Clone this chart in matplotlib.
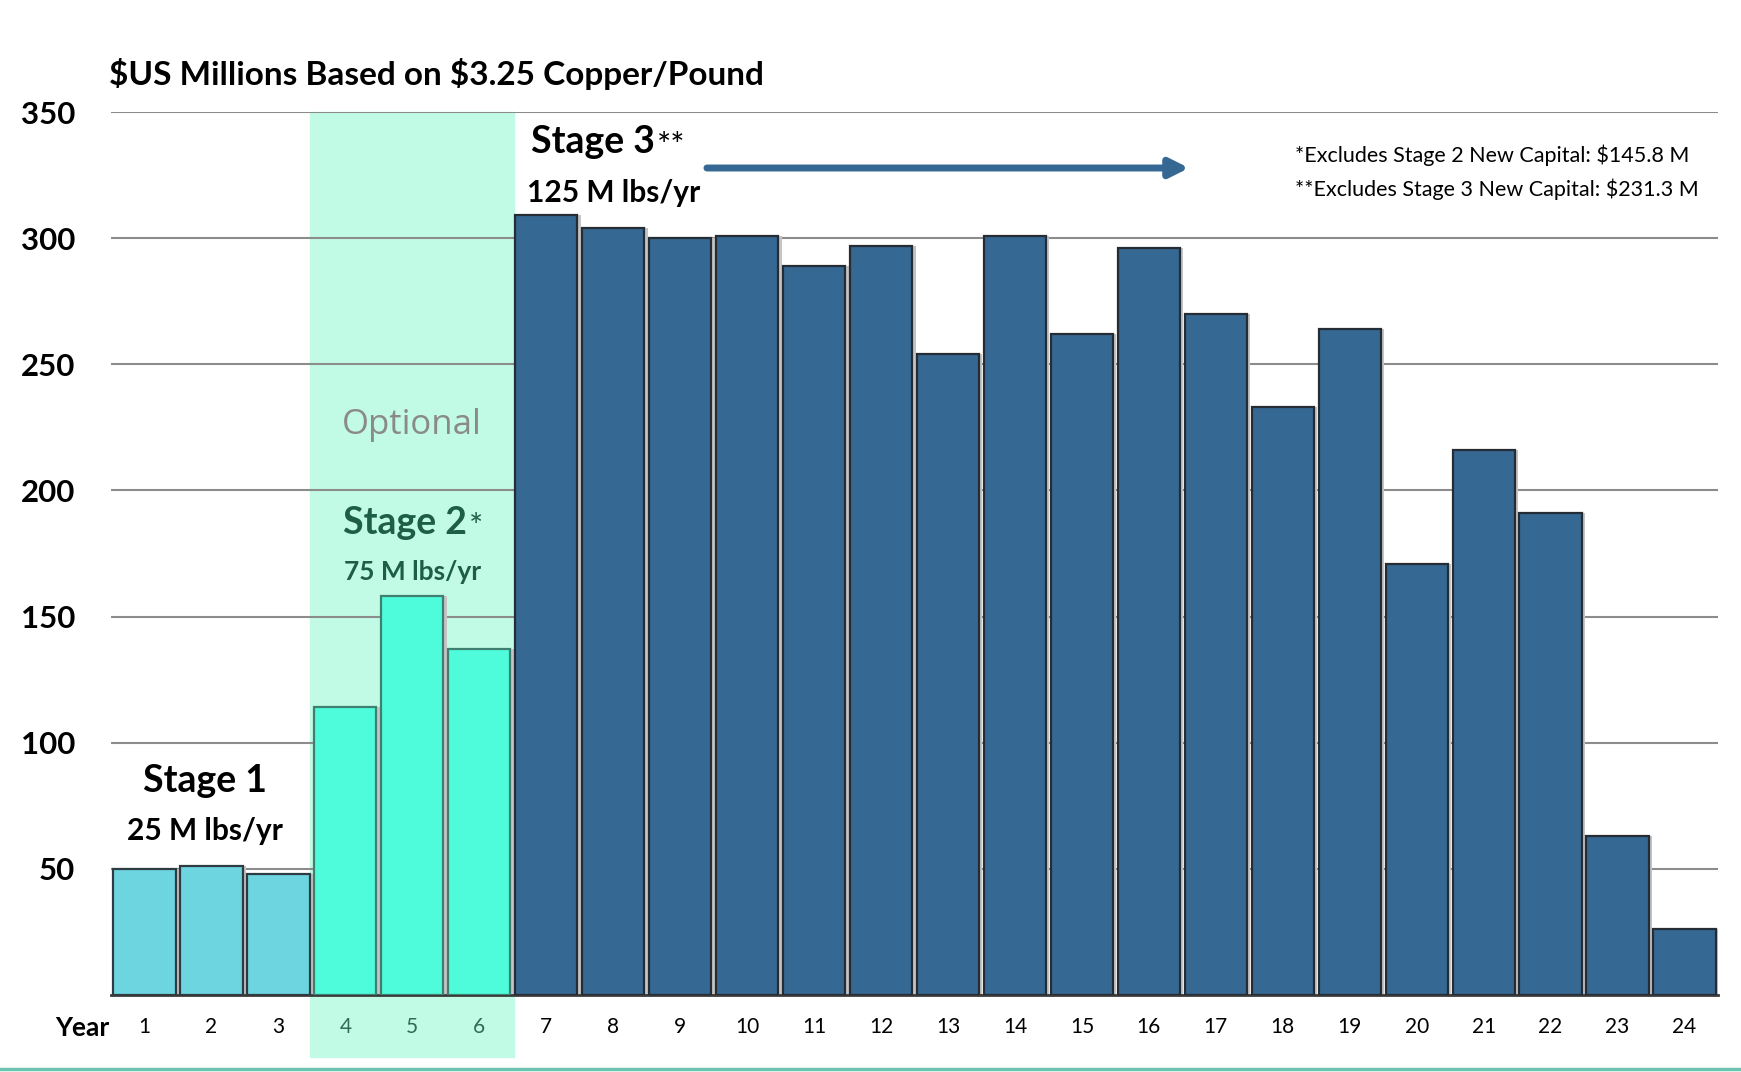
import matplotlib
matplotlib.use("Agg")
import matplotlib.pyplot as plt
from matplotlib.lines import Line2D

plt.rcParams["font.family"] = ["Lato", "DejaVu Sans"]

# data
years = list(range(1, 25))
revenue = [50, 51, 48, 114, 158, 137, 309, 304, 300, 301, 289, 297,
           254, 301, 262, 296, 270, 233, 264, 171, 216, 191, 63, 26]
stage = [1, 1, 1, 2, 2, 2] + [3] * 18
y_ticks = [50, 100, 150, 200, 250, 300, 350]

stage_colors = {1: "#6dd5e0", 2: "#4efcdc", 3: "#356892"}
stage_edges = {1: "#2e3b40", 2: "#3f7f70", 3: "#262c33"}

fig = plt.figure(figsize=(17.41, 10.72), dpi=100)
ax = fig.add_axes([111 / 1741, 1 - 995 / 1072, 1607 / 1741, 883 / 1072])

# optional (stage 2) band, reaching down past the axis to the year labels
ax.axvspan(3.47, 6.52, ymin=-0.07, ymax=1.0, color="#c2fbe5", zorder=0, clip_on=False)

for yv in y_ticks:
    ax.axhline(yv, color="#8c8c8c", lw=1.5, zorder=1)

# soft shadow, then the bars
ax.bar([y + 0.05 for y in years], revenue, width=0.93, color="#c4c4c4", zorder=2)
ax.bar(years, revenue, width=0.93,
       color=[stage_colors[s] for s in stage],
       edgecolor=[stage_edges[s] for s in stage], linewidth=1.6, zorder=3)

ax.set_xlim(0.5, 24.5)
ax.set_ylim(0, 350)
ax.set_yticks(y_ticks)
ax.set_yticklabels([str(v) for v in y_ticks], fontsize=22.5, fontweight="bold")
ax.set_xticks(years)
ax.set_xticklabels([str(y) for y in years], fontsize=15)
for lbl, s in zip(ax.get_xticklabels(), stage):
    if s == 2:
        lbl.set_color("#2f6b57")
ax.tick_params(axis="y", length=0, pad=26)
ax.tick_params(axis="x", length=0, pad=16)
for side in ["top", "right", "left"]:
    ax.spines[side].set_visible(False)
ax.spines["bottom"].set_color("#3a3a3a")
ax.spines["bottom"].set_linewidth(2)

fig.text(82 / 1741, 1 - 1028 / 1072, "Year", fontsize=19, fontweight="bold",
         ha="center", va="center")
fig.text(109 / 1741, 1 - 74 / 1072, r"\$US Millions Based on \$3.25 Copper/Pound",
         fontsize=24, fontweight="bold", ha="left", va="center")

# stage labels
ax.text(1.9, 85, "Stage 1", fontsize=27, fontweight="bold", ha="center", va="center", zorder=5)
ax.text(1.9, 65, "25 M lbs/yr", fontsize=21.5, fontweight="bold", ha="center", va="center", zorder=5)

ax.text(5.0, 226, "Optional", fontsize=25, color="#8a8a8a", family=["Open Sans", "DejaVu Sans"],
        ha="center", va="center", zorder=5)
ax.text(5.81, 187, "Stage 2", fontsize=27, fontweight="bold", color="#1e5e46",
        ha="right", va="center", zorder=5)
ax.text(5.84, 185, "*", fontsize=24, color="#1e5e46", ha="left", va="center", zorder=5)
ax.text(5.0, 167.5, "75 M lbs/yr", fontsize=19, fontweight="bold", color="#1e5e46",
        ha="center", va="center", zorder=5)

ax.text(8.62, 338, "Stage 3", fontsize=27, fontweight="bold", ha="right", va="center", zorder=5)
ax.text(8.65, 336, "**", fontsize=24, ha="left", va="center", zorder=5)
ax.text(8.0, 318, "125 M lbs/yr", fontsize=21.5, fontweight="bold", ha="center", va="center", zorder=5)

ax.annotate("", xy=(16.6, 327.8), xytext=(9.4, 327.8),
            arrowprops=dict(arrowstyle="-|>", color="#356892", lw=5, mutation_scale=28,
                            shrinkA=0, shrinkB=0), zorder=5)

ax.text(18.18, 333, r"*Excludes Stage 2 New Capital: \$145.8 M", fontsize=15.5,
        ha="left", va="center", zorder=5)
ax.text(18.18, 319.5, r"**Excludes Stage 3 New Capital: \$231.3 M", fontsize=15.5,
        ha="left", va="center", zorder=5)

fig.add_artist(Line2D([0, 1], [1 - 1069 / 1072] * 2, transform=fig.transFigure,
                      color="#6cc4b0", lw=2.5))

fig.savefig("out.png", dpi=100)
